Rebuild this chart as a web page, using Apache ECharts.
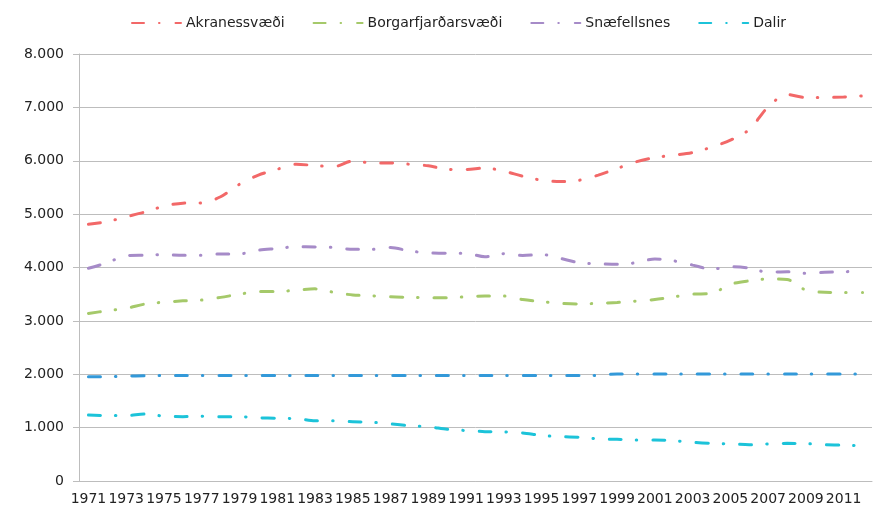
<!DOCTYPE html>
<html>
<head>
<meta charset="utf-8" />
<script src="https://cdn.jsdelivr.net/npm/echarts@6/dist/echarts.min.js"></script>
<style>
  html, body { margin: 0; padding: 0; background: #ffffff; }
  #chart { width: 879px; height: 512px; }
</style>
</head>
<body>
<div id="chart"></div>
<script>
// Ár 1971-2012, merki á x-ás á tveggja ára fresti
const years = [];
for (let y = 1971; y <= 2012; y++) years.push(String(y));

const akranes = [
  4810, 4860, 4950, 5040, 5150, 5205, 5210, 5325, 5560, 5730,
  5840, 5935, 5910, 5890, 5995, 5960, 5960, 5935, 5905, 5840,
  5835, 5865, 5805, 5710, 5635, 5610, 5635, 5730, 5855, 5980,
  6060, 6105, 6155, 6255, 6385, 6585, 7010, 7240, 7185, 7185,
  7195, 7215
];
const borgarfj = [
  3140, 3190, 3235, 3315, 3350, 3375, 3390, 3440, 3500, 3550,
  3550, 3575, 3600, 3535, 3485, 3470, 3450, 3440, 3435, 3435,
  3450, 3465, 3465, 3400, 3360, 3330, 3315, 3330, 3345, 3370,
  3400, 3450, 3500, 3515, 3685, 3750, 3785, 3775, 3575, 3535,
  3530, 3530
];
const snaefellsnes = [
  3985, 4090, 4220, 4230, 4240, 4230, 4230, 4255, 4255, 4325,
  4355, 4390, 4385, 4375, 4340, 4340, 4375, 4310, 4275, 4265,
  4265, 4200, 4260, 4225, 4245, 4170, 4090, 4070, 4060, 4090,
  4160, 4125, 4045, 3970, 4015, 3990, 3910, 3920, 3890, 3910,
  3920, 3935
];
const rod5 = [
  1955, 1955, 1965, 1970, 1975, 1975, 1975, 1975, 1975, 1975,
  1975, 1975, 1975, 1975, 1975, 1975, 1975, 1975, 1975, 1975,
  1975, 1975, 1975, 1975, 1975, 1975, 1975, 1980, 2005, 2005,
  2005, 2005, 2005, 2005, 2005, 2005, 2005, 2005, 2005, 2005,
  2005, 2005
];
const dalir = [
  1235, 1225, 1225, 1255, 1215, 1205, 1215, 1205, 1205, 1185,
  1175, 1170, 1130, 1130, 1110, 1100, 1070, 1035, 1015, 970,
  945, 925, 920, 900, 855, 830, 820, 790, 780, 770,
  770, 755, 725, 705, 695, 680, 695, 705, 700, 680,
  670, 660
];

const legendNames = ['Akranessvæði', 'Borgarfjarðarsvæði', 'Snæfellsnes', 'Dalir'];

const fontFamily = "'DejaVu Sans', sans-serif";
const gridColor = '#BDBDBD';
// langt strik, punktur
const dashDot = [12, 15, 0.5, 16];

function lineSeries(name, data, color) {
  return {
    name: name,
    type: 'line',
    data: data,
    smooth: 0.3,
    symbol: 'none',
    color: color,
    lineStyle: { color: color, width: 3, type: dashDot, cap: 'round' }
  };
}

function thousands(value) {
  return String(value).replace(/\B(?=(\d{3})+(?!\d))/g, '.');
}

const chart = echarts.init(document.getElementById('chart'), null, { renderer: 'canvas' });

chart.setOption({
  animation: false,
  backgroundColor: '#ffffff',
  textStyle: { fontFamily: fontFamily },
  legend: {
    data: legendNames,
    left: 126,
    top: 11,
    itemWidth: 49,
    itemHeight: 14,
    itemGap: 28,
    // aðeins strikalínan, enginn hringur
    itemStyle: { opacity: 0 },
    textStyle: { fontFamily: fontFamily, fontSize: 14, color: '#222222' }
  },
  grid: { left: 79, right: 7, top: 54, bottom: 31 },
  xAxis: {
    type: 'category',
    data: years,
    boundaryGap: true,
    axisLine: { lineStyle: { color: gridColor, width: 1 } },
    axisTick: { interval: 0, length: 5, lineStyle: { color: gridColor } },
    axisLabel: {
      interval: 1,
      margin: 11,
      fontFamily: fontFamily,
      fontSize: 14,
      color: '#222222'
    },
    splitLine: { show: false }
  },
  yAxis: {
    type: 'value',
    min: 0,
    max: 8000,
    interval: 1000,
    axisLine: { show: true, lineStyle: { color: gridColor, width: 1 } },
    axisTick: { show: true, length: 6, lineStyle: { color: gridColor } },
    axisLabel: {
      margin: 15,
      fontFamily: fontFamily,
      fontSize: 14,
      color: '#222222',
      formatter: thousands
    },
    splitLine: { lineStyle: { color: gridColor, width: 1 } }
  },
  series: [
    lineSeries('Akranessvæði', akranes, '#F26868'),
    lineSeries('Borgarfjarðarsvæði', borgarfj, '#A5C96A'),
    lineSeries('Snæfellsnes', snaefellsnes, '#A68BC8'),
    lineSeries('Röð5', rod5, '#3399D9'),
    lineSeries('Dalir', dalir, '#1CC3D9')
  ]
});
</script>
</body>
</html>
